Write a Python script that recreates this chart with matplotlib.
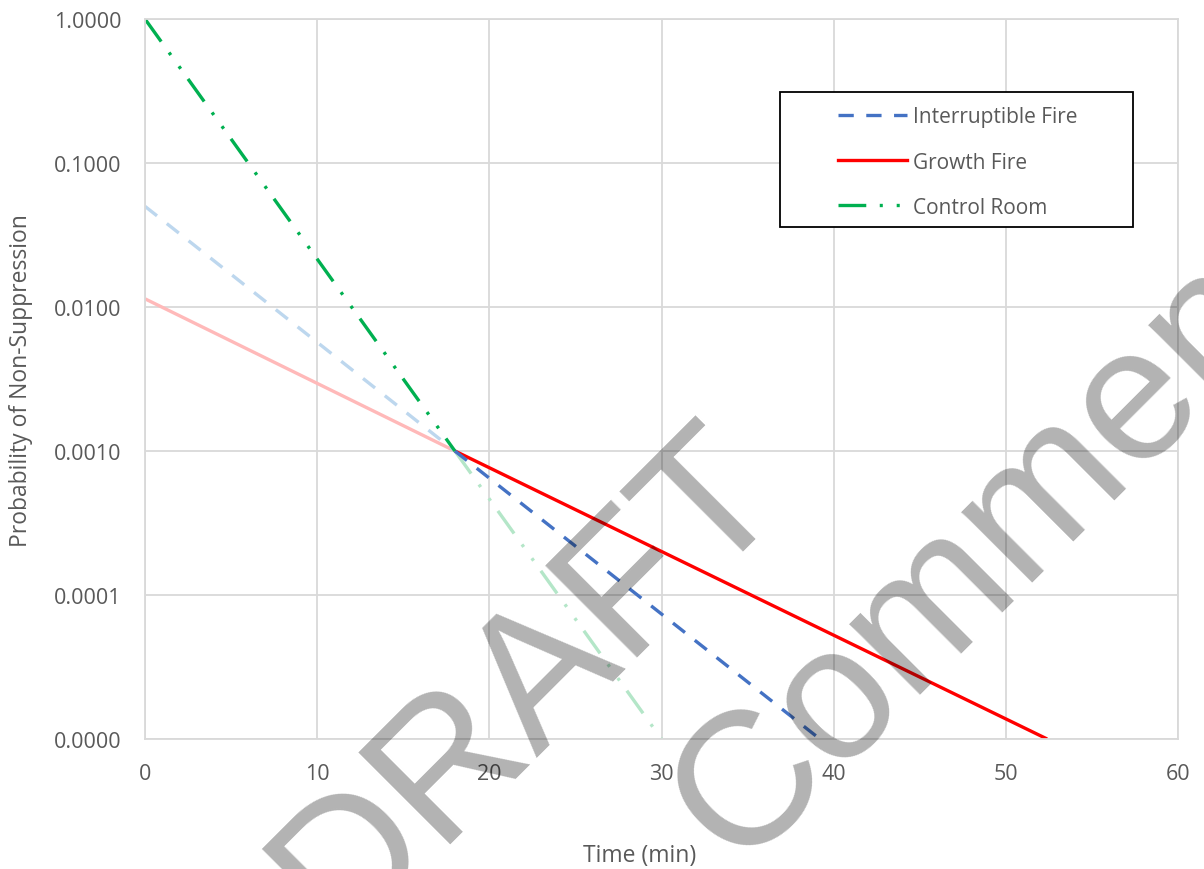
import matplotlib
matplotlib.use("Agg")
import matplotlib.pyplot as plt
from matplotlib.patches import Rectangle
from matplotlib.lines import Line2D
from matplotlib.ticker import FixedLocator, FuncFormatter, NullLocator

plt.rcParams['font.family'] = ['Open Sans', 'DejaVu Sans']
plt.rcParams['lines.scale_dashes'] = False

# extrapolated part (0 - 18 min), drawn faded
early_time = [0, 18]
interruptible_early = [0.05, 0.001]
growth_early = [0.0114, 0.001]
control_early = [1.0, 0.001]

# curves after 18 min
interruptible_time = [18, 39.2]
interruptible_prob = [0.001, 0.00001]
growth_time = [18, 52.4]
growth_prob = [0.001, 0.00001]
control_time = [18, 30]
control_prob = [0.001, 0.00001]

x_ticks = [0, 10, 20, 30, 40, 50, 60]
y_ticks = [1e-5, 1e-4, 1e-3, 1e-2, 1e-1, 1.0]

text_color = '#595959'
grid_color = '#D9D9D9'
blue, blue_light = '#4472C4', '#BDD7EE'
red, red_light = '#FF0000', '#FFB9B9'
green, green_light = '#00B050', '#B4E6C8'

dash_style = (0, (11, 9))
dashdotdot_style = (0, (20, 9.7, 2.2, 10, 2.2, 9))
lw = 2.4

fig = plt.figure(figsize=(12.04, 8.7), dpi=100)
ax = fig.add_axes([145 / 1204, 1 - 740 / 870, 1033 / 1204, 720 / 870])

# faded early segments
ax.plot(early_time, growth_early, color=red_light, lw=lw, solid_capstyle='butt')
ax.plot(early_time, interruptible_early, color=blue_light, lw=lw, linestyle=dash_style)

# faded control room continuation after 18 min
ax.plot(control_time, control_prob, color=green_light, lw=lw, linestyle=dashdotdot_style)
ax.plot(growth_time, growth_prob, color=red, lw=lw, solid_capstyle='butt')
ax.plot(interruptible_time, interruptible_prob, color=blue, lw=lw, linestyle=dash_style)
# control room shown strongly only before 18 min
ax.plot(early_time, control_early, color=green, lw=lw, linestyle=dashdotdot_style)

ax.set_yscale('log')
ax.set_xlim(0, 60)
ax.set_ylim(1e-5, 1.0)
ax.xaxis.set_major_locator(FixedLocator(x_ticks))
ax.yaxis.set_major_locator(FixedLocator(y_ticks))
ax.yaxis.set_minor_locator(NullLocator())
ax.yaxis.set_major_formatter(FuncFormatter(lambda v, p: f"{v:.4f}"))
ax.grid(True, color=grid_color, lw=1.3)
ax.set_axisbelow(True)
for s in ax.spines.values():
    s.set_color(grid_color)
    s.set_linewidth(1.3)
ax.tick_params(axis='both', length=0, labelsize=15.5, labelcolor=text_color)
ax.tick_params(axis='y', pad=17)
ax.tick_params(axis='x', pad=17)

ax.set_xlabel('Time (min)', fontsize=16.5, color=text_color)
ax.set_ylabel('Probability of Non-Suppression', fontsize=16.5, color=text_color)
ax.xaxis.set_label_coords(0.479, -0.145)
ax.yaxis.set_label_coords(-0.108, 0.499)

# legend box
box = Rectangle((780 / 1204, 1 - 228 / 870), 353 / 1204, 135 / 870,
                transform=fig.transFigure, facecolor='white', edgecolor='black',
                lw=1.3, zorder=4, clip_on=False)
ax.add_patch(box)
handles = [
    Line2D([], [], color=blue, lw=lw, linestyle=dash_style),
    Line2D([], [], color=red, lw=lw),
    Line2D([], [], color=green, lw=lw, linestyle=dashdotdot_style),
]
labels = ['Interruptible Fire', 'Growth Fire', 'Control Room']
leg = ax.legend(handles, labels, loc='upper left', frameon=False,
                bbox_to_anchor=(828 / 1204, 1 - 97 / 870),
                bbox_transform=fig.transFigure, borderpad=0, fontsize=15,
                handlelength=3.3, handletextpad=0.28, labelspacing=1.16)
leg.set_zorder(5)
for t in leg.get_texts():
    t.set_color(text_color)

# watermark
wm = dict(rotation=45, rotation_mode='anchor', ha='left', va='baseline',
          fontsize=137, family='Liberation Sans', color='black', alpha=0.3, zorder=10)
fig.text(338 / 1204, 1 - 941 / 870, 'DRAFT', **wm)
fig.text(737 / 1204, 1 - 869 / 870, 'Comment', **wm)

fig.savefig('out.png', dpi=100)
